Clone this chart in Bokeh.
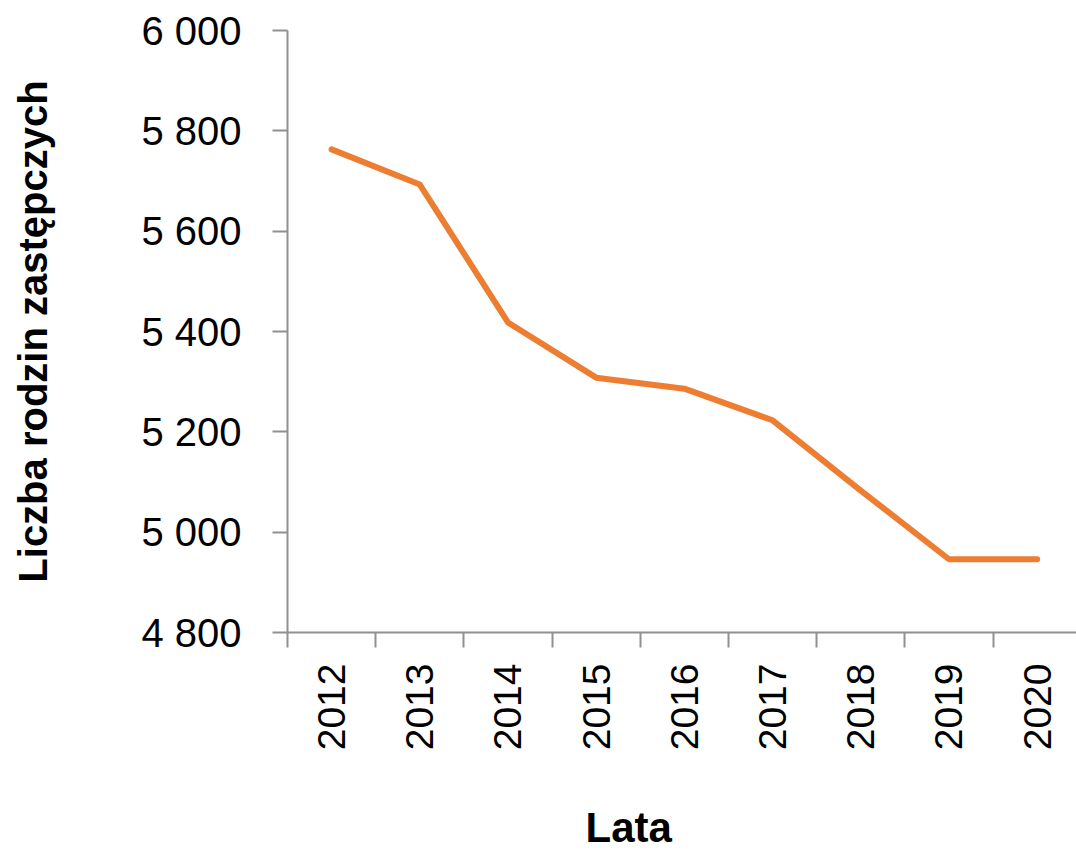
import math
from bokeh.plotting import figure
from bokeh.models import Range1d, FixedTicker, Title
from bokeh.embed import file_html
from bokeh.resources import INLINE

# ---- data ----
years = [2012, 2013, 2014, 2015, 2016, 2017, 2018, 2019, 2020]
families = [5763, 5693, 5418, 5308, 5286, 5223, 5083, 4946, 4946]
y_ticks = [4800, 5000, 5200, 5400, 5600, 5800, 6000]
y_tick_labels = ["4 800", "5 000", "5 200", "5 400", "5 600", "5 800", "6 000"]
y_title = "Liczba rodzin zastępczych"
x_title = "Lata"

FONT = "Liberation Sans"
AXIS_COLOR = "#909090"
LINE_COLOR = "#ED7D31"

p = figure(width=1076, height=851, output_backend="svg", toolbar_location=None,
           x_range=Range1d(years[0] - 0.5, years[0] - 0.5 + 8.946),
           y_range=Range1d(y_ticks[0], y_ticks[-1]),
           min_border_left=287, min_border_right=0, min_border_top=30,
           min_border_bottom=219)
p.outline_line_color = None
p.grid.grid_line_color = None

p.line(years, families, line_color=LINE_COLOR, line_width=6,
       line_cap="round", line_join="round")

# y axis
ya = p.yaxis[0]
ya.ticker = FixedTicker(ticks=y_ticks)
ya.major_label_overrides = {t: l for t, l in zip(y_ticks, y_tick_labels)}
ya.axis_line_color = AXIS_COLOR
ya.axis_line_width = 2
ya.major_tick_line_color = AXIS_COLOR
ya.major_tick_line_width = 2
ya.major_tick_out = 15
ya.major_tick_in = 0
ya.minor_tick_line_color = None
ya.major_label_standoff = 31
ya.major_label_text_font = FONT
ya.major_label_text_font_size = "40px"
ya.major_label_text_color = "black"
ya.axis_label = y_title
ya.axis_label_text_font = FONT
ya.axis_label_text_font_style = "bold"
ya.axis_label_text_font_size = "40px"
ya.axis_label_text_color = "black"
ya.axis_label_standoff = 83

# x axis
xa = p.xaxis[0]
bounds = [y - 0.5 for y in years] + [years[-1] + 0.5]
xa.ticker = FixedTicker(ticks=years, minor_ticks=bounds)
xa.major_label_overrides = {y: str(y) for y in years}
xa.axis_line_color = AXIS_COLOR
xa.axis_line_width = 2
xa.major_tick_line_color = None
xa.major_tick_out = 0
xa.major_tick_in = 0
xa.minor_tick_line_color = AXIS_COLOR
xa.minor_tick_line_width = 2
xa.minor_tick_out = 15
xa.minor_tick_in = 0
xa.major_label_orientation = math.pi / 2
xa.major_label_standoff = 16
xa.major_label_text_font = FONT
xa.major_label_text_font_size = "39px"
xa.major_label_text_color = "black"

# x axis title (leading blank line pushes it lower in its panel)
p.add_layout(Title(text="\n" + x_title, align="left", offset=298, standoff=2,
                   text_font=FONT, text_font_style="bold",
                   text_font_size="42px", text_color="black"), "below")

open("out.html", "w").write(file_html(p, INLINE))
